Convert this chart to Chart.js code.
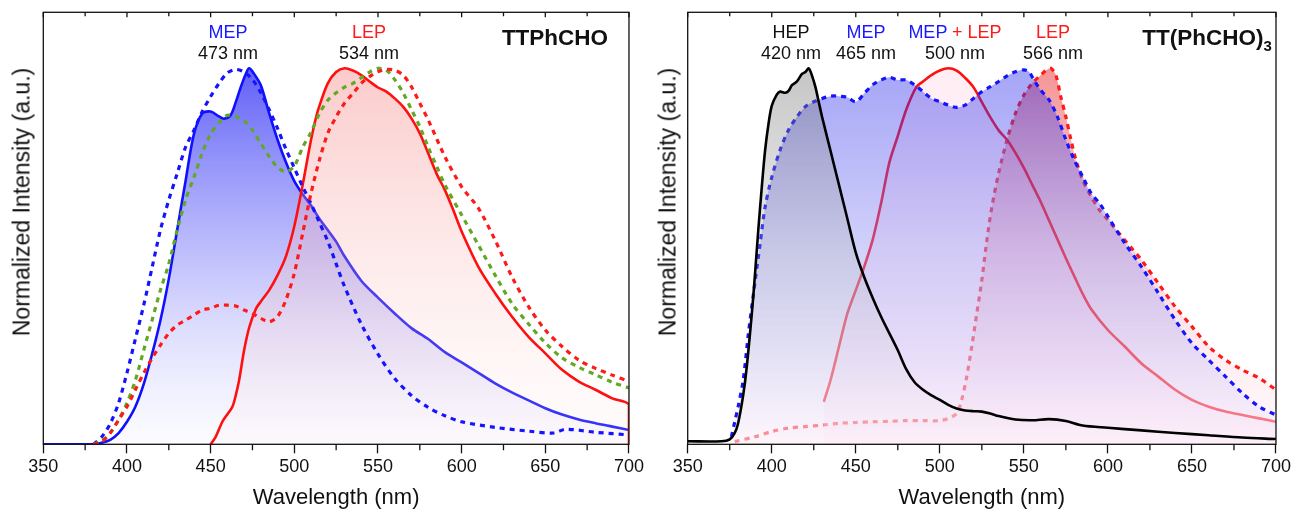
<!DOCTYPE html>
<html>
<head>
<meta charset="utf-8">
<script src="https://cdn.jsdelivr.net/npm/chart.js@4.4.1/dist/chart.umd.min.js"></script>
<style>
  body { margin: 0; background: #fff; width: 1294px; height: 517px; overflow: hidden; position: relative;
         font-family: "Liberation Sans", Arial, sans-serif; }
  canvas { position: absolute; top: 0; }
  #leftChart { left: 0; }
  #rightChart { left: 647px; }
  .lbl { position: absolute; transform: translate(-50%, -50%); font-size: 18px; line-height: 1;
         white-space: nowrap; color: #111; }
  .blue { color: #1a1aff; }
  .red { color: #ff1a1a; }
  .name { font-weight: bold; font-size: 22.5px; }
  .ytitle { position: absolute; font-size: 23px; line-height: 1; color: #111; white-space: nowrap;
            transform: translate(-50%, -50%) rotate(-90deg); }
</style>
</head>
<body>
<canvas id="leftChart" width="647" height="517"></canvas>
<canvas id="rightChart" width="647" height="517"></canvas>

<div class="ytitle" style="left:22px; top:202px;">Normalized Intensity (a.u.)</div>
<div class="ytitle" style="left:668px; top:202px;">Normalized Intensity (a.u.)</div>

<div class="lbl blue" style="left:228px; top:32px;">MEP</div>
<div class="lbl" style="left:228px; top:53px;">473 nm</div>
<div class="lbl red" style="left:369px; top:32px;">LEP</div>
<div class="lbl" style="left:369px; top:53px;">534 nm</div>
<div class="lbl name" style="left:555px; top:38px;">TTPhCHO</div>

<div class="lbl" style="left:791px; top:32px;">HEP</div>
<div class="lbl" style="left:791px; top:53px;">420 nm</div>
<div class="lbl blue" style="left:866px; top:32px;">MEP</div>
<div class="lbl" style="left:866px; top:53px;">465 nm</div>
<div class="lbl" style="left:955px; top:32px;"><span class="blue">MEP</span> <span class="red">+ LEP</span></div>
<div class="lbl" style="left:955px; top:53px;">500 nm</div>
<div class="lbl red" style="left:1053px; top:32px;">LEP</div>
<div class="lbl" style="left:1053px; top:53px;">566 nm</div>
<div class="lbl name" style="left:1207px; top:40px;">TT(PhCHO)<sub style="font-size:15px;">3</sub></div>

<script>
// axis ranges and tick labels
const xMin = 350, xMax = 700, yMax = 1.149;
const xTicks = [350, 400, 450, 500, 550, 600, 650, 700];
const xMinorTicks = [350, 375, 400, 425, 450, 475, 500, 525, 550, 575, 600, 625, 650, 675, 700];

// ---- TTPhCHO (left panel) ----
const ttMepX = [350, 370, 380, 385, 390, 395, 400, 405, 410, 415, 420, 425, 430, 435, 440, 445, 450, 455, 458, 462, 465, 468, 471, 473, 476, 480, 485, 490, 495, 500, 505, 510, 515, 520, 525, 530, 540, 550, 560, 570, 580, 590, 600, 610, 620, 630, 640, 650, 660, 670, 680, 690, 700];
const ttMepY = [0, 0, 0, 0.004, 0.012, 0.03, 0.06, 0.1, 0.16, 0.24, 0.33, 0.44, 0.57, 0.7, 0.825, 0.88, 0.885, 0.872, 0.866, 0.876, 0.91, 0.95, 0.985, 1.0, 0.985, 0.955, 0.88, 0.81, 0.75, 0.7, 0.665, 0.635, 0.6, 0.57, 0.539, 0.5, 0.435, 0.39, 0.348, 0.309, 0.28, 0.245, 0.218, 0.19, 0.162, 0.138, 0.117, 0.096, 0.079, 0.066, 0.056, 0.047, 0.038];

const ttLepX = [450, 453, 457, 460, 463, 465, 467, 470, 473, 477, 480, 485, 490, 495, 500, 505, 510, 513, 515, 520, 525, 530, 535, 540, 545, 550, 555, 560, 565, 570, 575, 580, 585, 590, 595, 600, 610, 620, 630, 640, 650, 660, 670, 680, 690, 700, 700];
const ttLepY = [0, 0.02, 0.06, 0.08, 0.1, 0.13, 0.17, 0.25, 0.31, 0.36, 0.38, 0.41, 0.45, 0.5, 0.58, 0.69, 0.81, 0.87, 0.9, 0.96, 0.99, 1.0, 0.994, 0.982, 0.965, 0.949, 0.938, 0.92, 0.898, 0.867, 0.827, 0.774, 0.72, 0.676, 0.623, 0.566, 0.472, 0.402, 0.34, 0.286, 0.242, 0.198, 0.167, 0.145, 0.122, 0.105, 0];

const ttBlueDashX = [380, 385, 390, 395, 400, 405, 410, 415, 420, 425, 430, 435, 440, 445, 450, 455, 460, 465, 470, 475, 480, 485, 490, 495, 500, 505, 510, 515, 520, 525, 530, 540, 550, 560, 570, 580, 590, 600, 620, 640, 655, 662, 680, 700];
const ttBlueDashY = [0, 0.02, 0.055, 0.11, 0.19, 0.28, 0.37, 0.47, 0.57, 0.65, 0.72, 0.79, 0.835, 0.885, 0.925, 0.96, 0.988, 0.997, 0.99, 0.97, 0.935, 0.89, 0.84, 0.785, 0.735, 0.685, 0.64, 0.59, 0.54, 0.48, 0.42, 0.32, 0.24, 0.175, 0.13, 0.098, 0.076, 0.06, 0.045, 0.035, 0.03, 0.04, 0.032, 0.025];

const ttGreenDashX = [380, 385, 390, 395, 400, 405, 410, 415, 420, 425, 430, 435, 440, 445, 450, 455, 460, 465, 470, 475, 480, 485, 490, 495, 500, 505, 510, 515, 520, 525, 530, 535, 540, 545, 550, 555, 560, 565, 570, 575, 580, 585, 590, 600, 610, 620, 630, 640, 650, 660, 670, 680, 690, 700];
const ttGreenDashY = [0, 0.01, 0.03, 0.065, 0.11, 0.17, 0.25, 0.33, 0.41, 0.48, 0.57, 0.65, 0.71, 0.775, 0.825, 0.855, 0.875, 0.872, 0.86, 0.835, 0.8, 0.765, 0.737, 0.725, 0.74, 0.79, 0.83, 0.88, 0.915, 0.935, 0.95, 0.96, 0.975, 0.99, 1.0, 0.995, 0.97, 0.935, 0.89, 0.845, 0.79, 0.74, 0.69, 0.61, 0.53, 0.45, 0.375, 0.32, 0.27, 0.23, 0.205, 0.185, 0.165, 0.15];

const ttRedDashX = [380, 385, 390, 395, 400, 405, 410, 415, 420, 425, 430, 435, 440, 445, 450, 455, 460, 465, 470, 475, 480, 485, 490, 495, 500, 505, 510, 515, 520, 525, 530, 535, 540, 545, 550, 555, 560, 565, 570, 575, 580, 590, 600, 610, 620, 630, 640, 650, 660, 670, 680, 690, 700];
const ttRedDashY = [0, 0.007, 0.03, 0.065, 0.1, 0.145, 0.189, 0.229, 0.264, 0.295, 0.317, 0.33, 0.344, 0.357, 0.362, 0.37, 0.37, 0.368, 0.357, 0.348, 0.335, 0.326, 0.34, 0.384, 0.455, 0.561, 0.668, 0.756, 0.827, 0.871, 0.907, 0.933, 0.96, 0.978, 0.991, 0.997, 0.995, 0.982, 0.951, 0.907, 0.863, 0.765, 0.685, 0.628, 0.543, 0.446, 0.366, 0.304, 0.26, 0.224, 0.202, 0.184, 0.167];

// ---- TT(PhCHO)3 (right panel) ----
const tt3HepX = [350, 370, 375, 378, 380, 383, 385, 388, 390, 392, 394, 396, 398, 400, 403, 405, 408, 410, 412, 415, 418, 420, 422, 424, 426, 428, 430, 435, 440, 445, 450, 455, 460, 465, 470, 475, 480, 485, 490, 495, 500, 505, 510, 515, 520, 525, 530, 535, 545, 555, 565, 575, 585, 600, 620, 640, 660, 680, 700];
const tt3HepY = [0.008, 0.008, 0.013, 0.03, 0.056, 0.13, 0.2, 0.34, 0.45, 0.57, 0.68, 0.78, 0.85, 0.9, 0.93, 0.938, 0.935, 0.94, 0.955, 0.965, 0.985, 0.99, 1.0, 0.98, 0.95, 0.91, 0.87, 0.78, 0.69, 0.6, 0.51, 0.445, 0.39, 0.34, 0.295, 0.25, 0.2, 0.165, 0.145, 0.13, 0.118, 0.105, 0.095, 0.09, 0.088, 0.087, 0.082, 0.075, 0.066, 0.064, 0.067, 0.062, 0.05, 0.044, 0.037, 0.03, 0.024, 0.018, 0.014];

const tt3MepX = [376, 378, 380, 383, 386, 390, 393, 396, 400, 405, 410, 415, 420, 425, 430, 435, 440, 445, 450, 455, 460, 465, 470, 475, 480, 485, 490, 495, 500, 505, 510, 515, 520, 525, 530, 535, 540, 545, 550, 553, 556, 560, 565, 570, 575, 580, 585, 590, 595, 600, 610, 620, 630, 640, 650, 660, 670, 680, 690, 700];
const tt3MepY = [0.02, 0.06, 0.1, 0.17, 0.29, 0.43, 0.53, 0.63, 0.71, 0.783, 0.836, 0.871, 0.898, 0.911, 0.92, 0.926, 0.926, 0.923, 0.911, 0.933, 0.956, 0.969, 0.976, 0.969, 0.969, 0.956, 0.938, 0.92, 0.911, 0.902, 0.896, 0.902, 0.92, 0.938, 0.951, 0.965, 0.98, 0.991, 0.996, 0.991, 0.969, 0.942, 0.916, 0.871, 0.81, 0.756, 0.712, 0.668, 0.641, 0.606, 0.535, 0.472, 0.402, 0.331, 0.269, 0.224, 0.18, 0.136, 0.1, 0.078];

const tt3MixX = [431, 435, 440, 445, 450, 455, 460, 465, 470, 475, 480, 486, 490, 495, 500, 505, 510, 515, 520, 525, 530, 535, 540, 545, 550, 555, 560, 565, 570, 575, 580, 585, 590, 600, 610, 620, 630, 640, 650, 660, 670, 680, 690, 700];
const tt3MixY = [0.113, 0.171, 0.26, 0.348, 0.41, 0.472, 0.543, 0.64, 0.75, 0.82, 0.89, 0.95, 0.965, 0.982, 0.994, 1.0, 0.994, 0.975, 0.95, 0.91, 0.87, 0.835, 0.81, 0.775, 0.735, 0.69, 0.645, 0.595, 0.545, 0.495, 0.447, 0.4, 0.36, 0.304, 0.26, 0.215, 0.18, 0.145, 0.118, 0.1, 0.087, 0.078, 0.069, 0.06];

const tt3LepX = [378, 390, 400, 410, 420, 430, 440, 450, 460, 470, 480, 490, 500, 505, 510, 513, 516, 519, 522, 525, 528, 531, 535, 540, 545, 550, 555, 560, 563, 566, 569, 572, 575, 578, 581, 585, 590, 595, 600, 605, 610, 615, 620, 630, 640, 650, 660, 670, 680, 690, 700];
const tt3LepY = [0.007, 0.02, 0.034, 0.043, 0.047, 0.051, 0.056, 0.058, 0.06, 0.061, 0.063, 0.063, 0.063, 0.069, 0.082, 0.118, 0.18, 0.26, 0.348, 0.437, 0.543, 0.632, 0.721, 0.81, 0.88, 0.929, 0.96, 0.982, 0.994, 1.0, 0.982, 0.924, 0.871, 0.81, 0.756, 0.703, 0.659, 0.623, 0.597, 0.57, 0.543, 0.517, 0.49, 0.428, 0.366, 0.313, 0.26, 0.224, 0.198, 0.176, 0.145];

const pts = (xs, ys) => xs.map((x, i) => ({ x: x, y: ys[i] }));

// vertical gradient between value 1 (top colour) and value 0 (bottom colour)
function vGrad(stops) {
    return function(c) {
        const chart = c.chart;
        if (!chart.chartArea) return 'transparent';
        const y = chart.scales.y;
        const g = chart.ctx.createLinearGradient(0, y.getPixelForValue(1), 0, y.getPixelForValue(0));
        stops.forEach(s => g.addColorStop(s[0], s[1]));
        return g;
    };
}

function solid(data, color, fillStops) {
    return {
        data: data, borderColor: color, borderWidth: 2.6, pointRadius: 0, tension: 0.3,
        fill: fillStops ? 'origin' : false,
        backgroundColor: fillStops ? vGrad(fillStops) : 'transparent'
    };
}

function dashed(data, color, fillStops) {
    const d = solid(data, color, fillStops);
    d.borderWidth = 3.2;
    d.borderDash = [5, 5];
    return d;
}

// frame round the plot and the minor/top ticks
const frameTicks = {
    id: 'frameTicks',
    afterDraw(chart) {
        const { ctx, chartArea: a, scales: { x } } = chart;
        ctx.save();
        ctx.strokeStyle = '#111';
        ctx.lineWidth = 1.3;
        ctx.strokeRect(a.left, a.top, a.right - a.left, a.bottom - a.top);
        ctx.beginPath();
        xMinorTicks.forEach(v => {
            const px = x.getPixelForValue(v);
            const major = xTicks.includes(v);
            if (!major) {
                ctx.moveTo(px, a.bottom);
                ctx.lineTo(px, a.bottom + 6);
            }
            ctx.moveTo(px, a.top);
            ctx.lineTo(px, a.top + (major ? 5 : 4));
        });
        ctx.stroke();
        ctx.restore();
    }
};

const fontFamily = '"Liberation Sans", Arial, sans-serif';

function makeOptions(yWidth, padRight) {
    return {
        responsive: false,
        animation: false,
        layout: { padding: { top: 12.3, right: padRight, left: 0, bottom: 0 } },
        plugins: { legend: { display: false }, tooltip: { enabled: false } },
        scales: {
            x: {
                type: 'linear', min: xMin, max: xMax,
                afterBuildTicks: s => { s.ticks = xTicks.map(v => ({ value: v })); },
                ticks: { color: '#111', font: { family: fontFamily, size: 18 }, padding: 3, maxRotation: 0, autoSkip: false },
                grid: { display: true, drawOnChartArea: false, drawTicks: true, tickLength: 9, tickColor: '#111', tickWidth: 1.3 },
                border: { display: false },
                title: { display: true, text: 'Wavelength (nm)', color: '#111', font: { family: fontFamily, size: 22 }, padding: { top: 0, bottom: 6 } },
                afterFit: s => { s.height = 72.7; }
            },
            y: {
                min: 0, max: yMax,
                ticks: { display: false },
                grid: { display: false },
                border: { display: false },
                afterFit: s => { s.width = yWidth; }
            }
        }
    };
}

new Chart(document.getElementById('leftChart'), {
    type: 'line',
    data: {
        datasets: [
            dashed(pts(ttRedDashX, ttRedDashY), '#ff1a1a'),
            dashed(pts(ttGreenDashX, ttGreenDashY), '#62a825'),
            dashed(pts(ttBlueDashX, ttBlueDashY), '#1414ff'),
            solid(pts(ttLepX, ttLepY), '#ff1010', [[0, 'rgba(245,130,130,0.42)'], [1, 'rgba(255,235,235,0.15)']]),
            solid(pts(ttMepX, ttMepY), '#1010ff', [[0, 'rgba(50,50,245,0.78)'], [0.5, 'rgba(140,140,250,0.55)'], [1, 'rgba(245,245,255,0.3)']])
        ]
    },
    options: makeOptions(43.3, 14.7),
    plugins: [frameTicks]
});

new Chart(document.getElementById('rightChart'), {
    type: 'line',
    data: {
        datasets: [
            solid(pts(tt3HepX, tt3HepY), '#000000', [[0, 'rgba(110,110,110,0.4)'], [1, 'rgba(240,240,240,0.1)']]),
            dashed(pts(tt3MepX, tt3MepY), '#1414ff', [[0, 'rgba(30,30,235,0.4)'], [0.5, 'rgba(150,150,245,0.42)'], [1, 'rgba(255,240,252,0.5)']]),
            solid(pts(tt3MixX, tt3MixY), '#ff1010', [[0, 'rgba(255,170,200,0.2)'], [1, 'rgba(255,200,230,0.2)']]),
            dashed(pts(tt3LepX, tt3LepY), '#ff1a1a', [[0, 'rgba(235,60,60,0.55)'], [1, 'rgba(255,200,220,0.1)']])
        ]
    },
    options: makeOptions(40.7, 15.7),
    plugins: [frameTicks]
});
</script>
</body>
</html>
